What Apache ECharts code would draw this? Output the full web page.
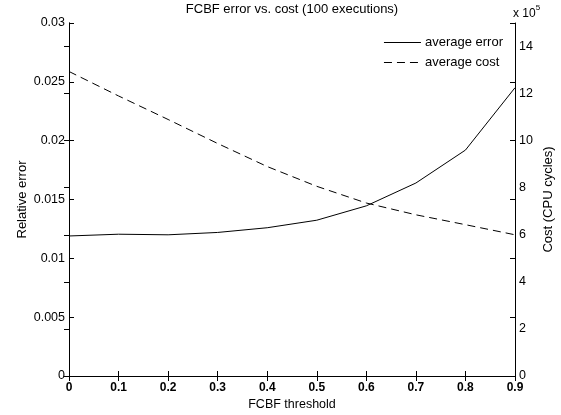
<!DOCTYPE html>
<html>
<head>
<meta charset="utf-8">
<script src="https://cdn.jsdelivr.net/npm/echarts@6/dist/echarts.min.js"></script>
<style>html,body{margin:0;padding:0;background:#fff}#c{width:561px;height:415px}</style>
</head>
<body>
<div id="c"></div>
<script>
var thresholds = [0, 0.1, 0.2, 0.3, 0.4, 0.5, 0.6, 0.7, 0.8, 0.9];
var avgError = [0.0119, 0.01205, 0.0120, 0.0122, 0.0126, 0.01324, 0.01446, 0.0164, 0.0192, 0.0245];
var avgCost = [1294000, 1190000, 1090000, 988000, 890000, 806000, 735000, 685000, 643000, 600000];
var titleText = 'FCBF error vs. cost (100 executions)';
var font = 'Liberation Sans, Arial, sans-serif';

var chart = echarts.init(document.getElementById('c'));
var axisLine = {show: true, lineStyle: {color: '#000', width: 1}};
var tick = {show: true, inside: true, length: 5, lineStyle: {color: '#000'}};
chart.setOption({
  animation: false,
  backgroundColor: '#fff',
  textStyle: {fontFamily: font},
  title: {
    text: titleText, left: 292, top: 3, padding: 0, textAlign: 'center',
    textStyle: {fontSize: 13, fontWeight: 'normal', color: '#000', fontFamily: font}
  },
  graphic: [{
    type: 'text', left: 513, top: 4,
    style: {
      text: '{a|x 10}{b|5}',
      rich: {
        a: {fontSize: 12, fontFamily: font, fill: '#000', padding: [4, 0, 0, 0]},
        b: {fontSize: 8, fontFamily: font, fill: '#000', verticalAlign: 'top'}
      }
    }
  }],
  legend: {
    orient: 'vertical', right: 53, top: 31,
    itemWidth: 37, itemHeight: 14, itemGap: 7,
    itemStyle: {opacity: 0},
    lineStyle: {width: 1},
    textStyle: {fontSize: 13, color: '#000', fontFamily: font, padding: [0, 0, 0, -1]},
    data: ['average error', 'average cost']
  },
  grid: {left: 69, right: 46, top: 23, bottom: 39, outerBoundsMode: 'none', containLabel: false},
  xAxis: [{
    type: 'value', min: 0, max: 0.9, interval: 0.1,
    name: 'FCBF threshold', nameLocation: 'middle', nameGap: 22, nameMoveOverlap: false,
    nameTextStyle: {fontSize: 12.5, color: '#000'},
    axisLine: axisLine, axisTick: tick, splitLine: {show: false},
    axisLabel: {fontSize: 12, fontWeight: 'bold', color: '#000', margin: 6,
      formatter: function (v) { return String(parseFloat(v.toFixed(2))); }}
  }, {
    type: 'value', position: 'top', min: 0, max: 0.9, interval: 0.1,
    axisLine: axisLine, axisTick: tick, splitLine: {show: false}, axisLabel: {show: false}
  }],
  yAxis: [{
    type: 'value', position: 'left', min: 0, max: 0.03, interval: 0.005,
    name: 'Relative error', nameLocation: 'middle', nameGap: 40, nameMoveOverlap: false,
    nameTextStyle: {fontSize: 13, color: '#000'},
    axisLine: axisLine, axisTick: tick, splitLine: {show: false},
    axisLabel: {fontSize: 12.5, color: '#000', margin: 4,
      formatter: function (v) { return String(parseFloat(v.toFixed(4))); }}
  }, {
    type: 'value', position: 'right', min: 0, max: 1500000, interval: 200000,
    name: 'Cost (CPU cycles)', nameLocation: 'middle', nameGap: 27, nameMoveOverlap: false,
    nameTextStyle: {fontSize: 13, color: '#000'},
    axisLine: axisLine, axisTick: tick, splitLine: {show: false},
    axisLabel: {fontSize: 12.5, color: '#000', margin: 4, showMaxLabel: false,
      formatter: function (v) { return String(Math.round(v / 100000)); }}
  }, {
    type: 'value', position: 'right', min: 0, max: 0.03, interval: 0.005,
    axisLine: axisLine, axisTick: tick, splitLine: {show: false}, axisLabel: {show: false}
  }],
  series: [{
    name: 'average error', type: 'line', xAxisIndex: 0, yAxisIndex: 0,
    symbol: 'none', lineStyle: {color: '#000', width: 1, type: 'solid'},
    itemStyle: {color: '#000'},
    data: thresholds.map(function (x, i) { return [x, avgError[i]]; })
  }, {
    name: 'average cost', type: 'line', xAxisIndex: 0, yAxisIndex: 1,
    symbol: 'none', lineStyle: {color: '#000', width: 1, type: [8, 5]},
    itemStyle: {color: '#000'},
    data: thresholds.map(function (x, i) { return [x, avgCost[i]]; })
  }]
});
</script>
</body>
</html>
